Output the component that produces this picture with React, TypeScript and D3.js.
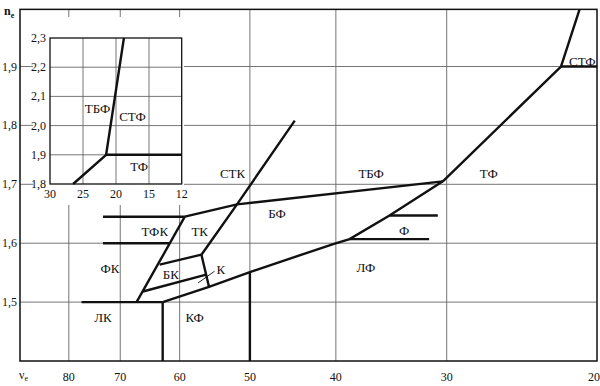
import React from 'react';
import * as d3 from 'd3';

// axes
const nuTicks = [80, 70, 60, 50, 40, 30, 20];
const nTicks = [1.5, 1.6, 1.7, 1.8, 1.9];
const insetNuTicks = [30, 25, 20, 15, 12];
const insetNTicks = [1.8, 1.9, 2.0, 2.1, 2.2, 2.3];

// glass region boundaries, [nu_e, n_e]
const lkTop = [[77.4, 1.5], [62.7, 1.5]];
const lkKfDivider = [[62.7, 1.5], [62.7, 1.4]];
const tfkTop = [[73.2, 1.645], [59.2, 1.645]];
const tfkBottom = [[73.2, 1.6], [61.6, 1.6]];
const fkRight = [[67.1, 1.5], [59.2, 1.645]];
const bkTop = [[63.2, 1.5636], [56.7, 1.5805]];
const bkBottom = [[66.0, 1.518], [56.0, 1.5466]];
const kRight = [[56.7, 1.5805], [55.6, 1.526]];
const stkLine = [[44.5, 1.808], [51.7, 1.666], [56.7, 1.5805]];
const tbfBottom = [[59.2, 1.645], [51.7, 1.666], [30.3, 1.705]];
const lfTop = [[62.7, 1.5], [55.6, 1.526], [50, 1.551], [40.2, 1.599], [38.6, 1.607], [34.8, 1.647], [30.3, 1.705]];
const kfLfDivider = [[50, 1.551], [50, 1.4]];
const fTop = [[34.8, 1.647], [30.7, 1.647]];
const fBottom = [[38.6, 1.607], [31.4, 1.607]];
const tfStf = [[30.3, 1.705], [22.3, 1.9], [21.25, 1.997]];
const stfBottom = [[22.3, 1.9], [20.3, 1.9]];
const kPointer = [[57.2, 1.5325], [54.8, 1.5525]];

const mainLines = [lkTop, lkKfDivider, tfkTop, tfkBottom, fkRight, bkTop, bkBottom, kRight,
  stkLine, tbfBottom, lfTop, kfLfDivider, fTop, fBottom, tfStf, stfBottom];

const regionNames = ['СТК', 'ТБФ', 'ТФ', 'СТФ', 'БФ', 'ТФК', 'ТК', 'ФК', 'БК', 'К', 'ЛК', 'КФ', 'ЛФ', 'Ф'];
const regionNu = [52.3, 36.5, 26.9, 21.1, 46.6, 64.0, 56.95, 71.9, 61.4, 53.9, 73.2, 57.7, 37.0, 33.5];
const regionN = [1.719, 1.718, 1.718, 1.909, 1.651, 1.62, 1.62, 1.557, 1.5475, 1.555, 1.474, 1.474, 1.5585, 1.621];

// inset (high-index flints)
const insetBoundary = [[26.5, 1.8], [21.5, 1.9], [18.8, 2.3]];
const insetTfTop = [[21.5, 1.9], [12, 1.9]];
const insetNames = ['ТБФ', 'СТФ', 'ТФ'];
const insetNu = [22.8, 17.5, 16.5];
const insetN = [2.059, 2.03, 1.859];

const App = () => {
  const width = 600;
  const height = 386;
  const font = 'Liberation Serif';

  const x = d3.scaleLog().domain([80, 30]).range([68.8, 446.7]);
  const y = d3.scaleLinear().domain([1.4, 1.9]).range([361, 66.5]);
  const left = 20;
  const right = 597;
  const top = y(1.997);
  const bottom = y(1.4);

  const xi = d3.scaleLinear().domain([30, 25, 20, 15, 12]).range([50, 83, 116, 149, 181.7]);
  const yi = d3.scaleLinear().domain([1.8, 2.3]).range([184, 38]);

  const line = d3.line<number[]>().x(d => x(d[0])).y(d => y(d[1]));
  const insetLine = d3.line<number[]>().x(d => xi(d[0])).y(d => yi(d[1]));

  const grid = '#666';
  const fmt = (v: number) => d3.format('.1f')(v).replace('.', ',');

  return (
    <svg width={width} height={height} style={{ position: 'absolute', left: 0, top: 0, fontFamily: font }}>
      <rect width={width} height={height} fill="#fff" />

      {/* grid */}
      {nuTicks.filter(v => x(v) < right - 2).map(v => (
        <line key={'gx' + v} x1={x(v)} x2={x(v)} y1={top} y2={bottom} stroke={grid} strokeWidth={0.9} />
      ))}
      {nTicks.map(v => (
        <line key={'gy' + v} x1={left} x2={right} y1={y(v)} y2={y(v)} stroke={grid} strokeWidth={0.9} />
      ))}

      {/* boundaries */}
      {mainLines.map((pts, i) => (
        <path key={'b' + i} d={line(pts) || ''} fill="none" stroke="#111" strokeWidth={2.4} />
      ))}
      <path d={line(kPointer) || ''} stroke="#111" strokeWidth={0.9} fill="none" />

      {/* inset background */}
      <rect x={33} y={17} width={151} height={188} fill="#fff" />

      {/* frame */}
      <rect x={left} y={top} width={right - left} height={bottom - top} fill="none"
        stroke="#111" strokeWidth={1.5} />

      {/* region labels */}
      {regionNames.map((t, i) => (
        <text key={'r' + t} x={x(regionNu[i])} y={y(regionN[i])} fontSize={13}
          textAnchor="middle" dominantBaseline="central" fill="#111">{t}</text>
      ))}

      {/* axis labels */}
      {nuTicks.map(v => (
        <text key={'tx' + v} x={Math.min(x(v), right - 3)} y={377} fontSize={12}
          textAnchor="middle" dominantBaseline="central" fill="#111">{v}</text>
      ))}
      {nTicks.map(v => (
        <text key={'ty' + v} x={17} y={y(v)} fontSize={12} textAnchor="end"
          dominantBaseline="central" fill="#111">{fmt(v)}</text>
      ))}
      <text x={4} y={15} fontSize={12} fontWeight="bold" fill="#111">n
        <tspan fontSize={8} dy={3}>e</tspan>
      </text>
      <text x={19} y={375} fontSize={12} fill="#111" dominantBaseline="central">ν
        <tspan fontSize={8} dy={3}>e</tspan>
      </text>

      {/* inset */}
      <g>
        {insetNuTicks.slice(1, -1).map(v => (
          <line key={'igx' + v} x1={xi(v)} x2={xi(v)} y1={yi(2.3)} y2={yi(1.8)} stroke={grid} strokeWidth={0.9} />
        ))}
        {insetNTicks.slice(1, -1).map(v => (
          <line key={'igy' + v} x1={xi(30)} x2={xi(12)} y1={yi(v)} y2={yi(v)} stroke={grid} strokeWidth={0.9} />
        ))}
        <path d={insetLine(insetBoundary) || ''} fill="none" stroke="#111" strokeWidth={2.4} />
        <path d={insetLine(insetTfTop) || ''} fill="none" stroke="#111" strokeWidth={2.4} />
        <rect x={xi(30)} y={yi(2.3)} width={xi(12) - xi(30)} height={yi(1.8) - yi(2.3)}
          fill="none" stroke="#111" strokeWidth={1.3} />
        {insetNuTicks.map(v => (
          <text key={'itx' + v} x={xi(v)} y={194} fontSize={12} textAnchor="middle"
            dominantBaseline="central" fill="#111">{v}</text>
        ))}
        {insetNTicks.map(v => (
          <text key={'ity' + v} x={46} y={yi(v)} fontSize={12} textAnchor="end"
            dominantBaseline="central" fill="#111">{fmt(v)}</text>
        ))}
        {insetNames.map((t, i) => (
          <text key={'in' + t} x={xi(insetNu[i])} y={yi(insetN[i])} fontSize={13}
            textAnchor="middle" dominantBaseline="central" fill="#111">{t}</text>
        ))}
      </g>
    </svg>
  );
};

export default App;
